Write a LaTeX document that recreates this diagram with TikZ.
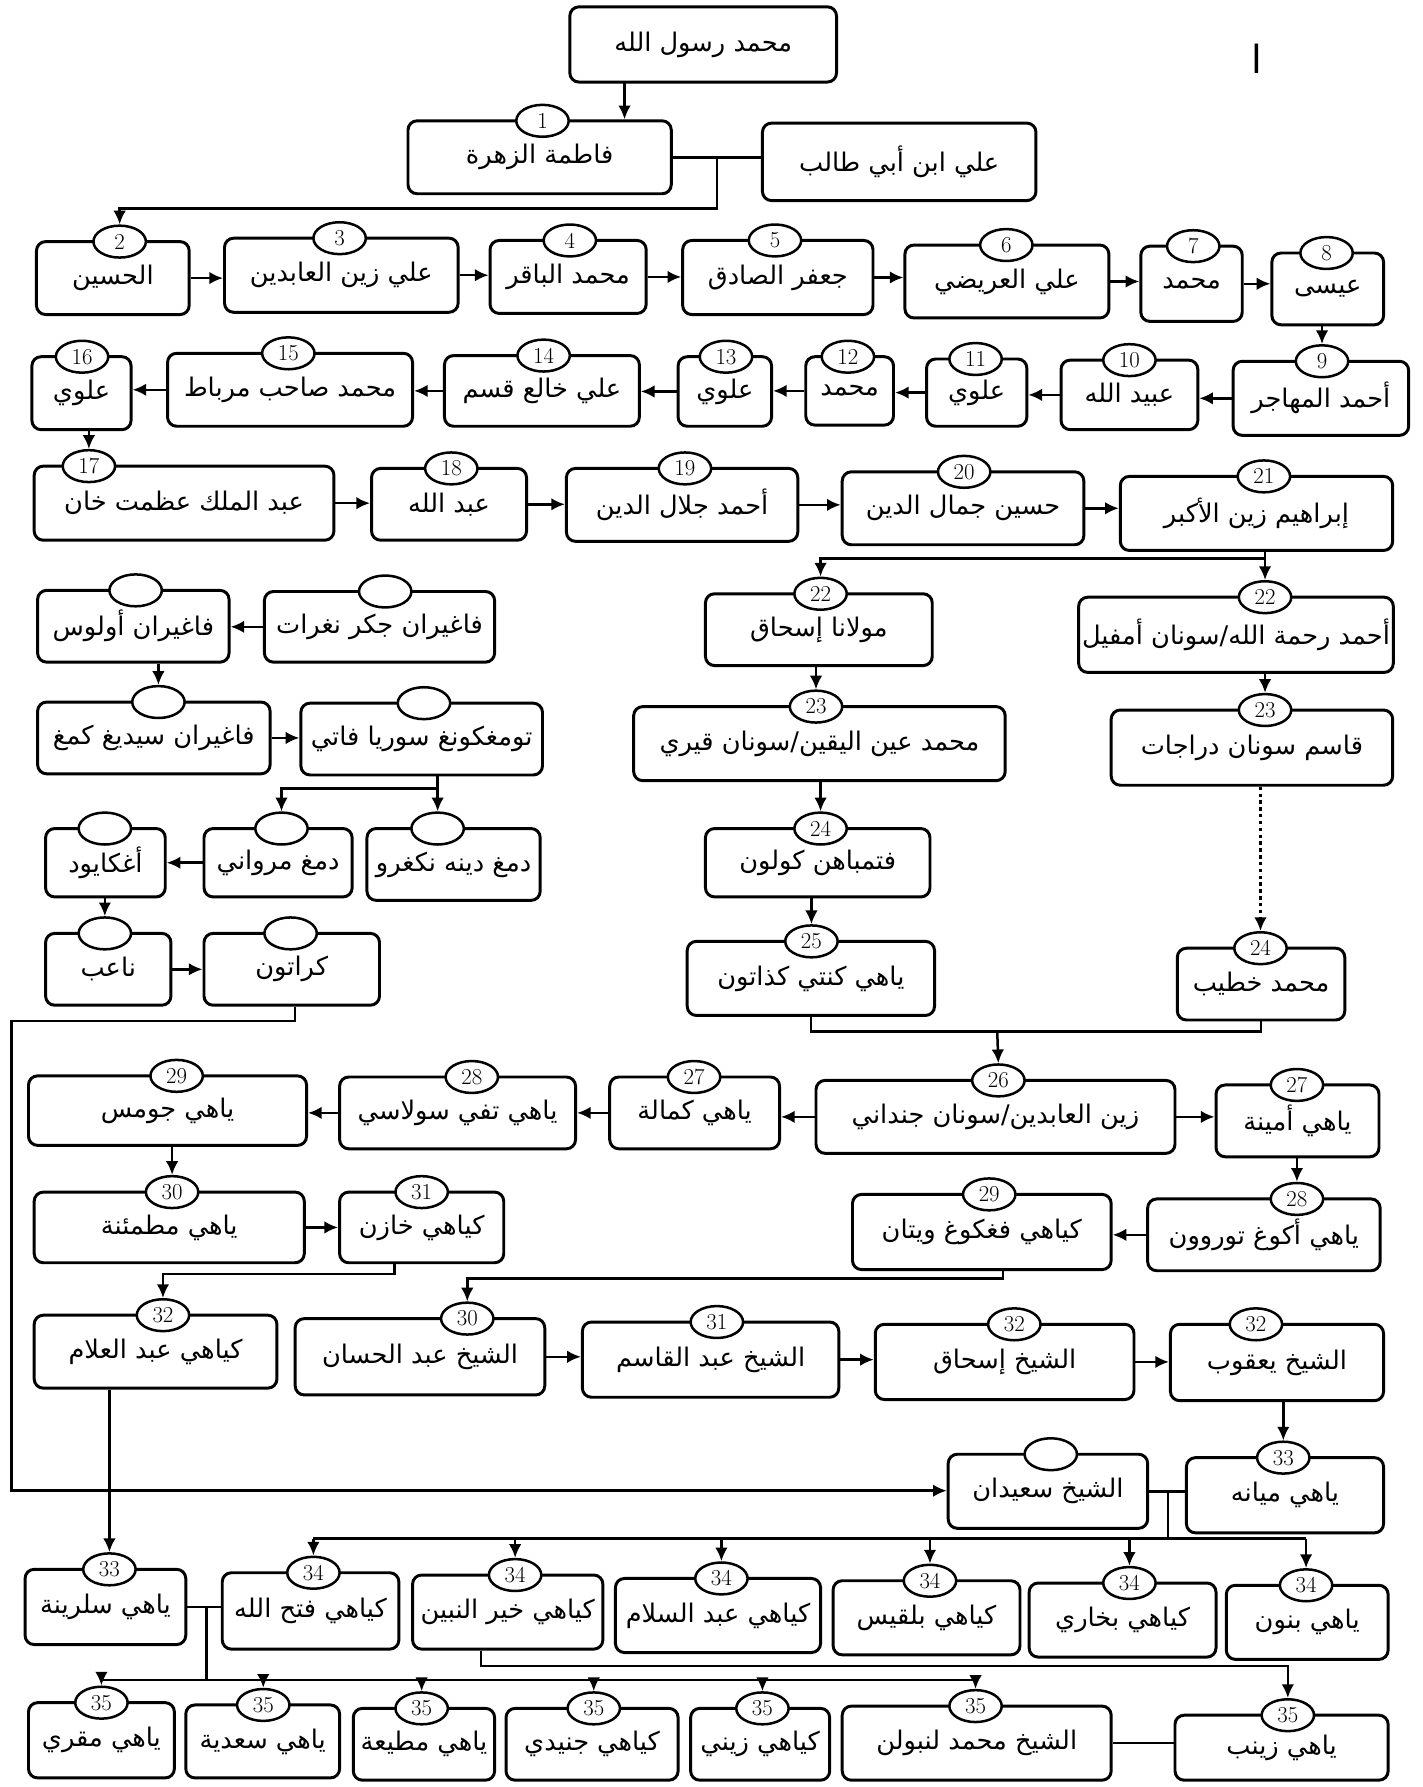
\documentclass[tikz,border=0pt]{standalone}
\usepackage{fontspec}
\newfontfamily\arabicfont[Script=Arabic]{DejaVu Sans}
\TeXXeTstate=1
\usetikzlibrary{arrows.meta,shapes.geometric}
\begin{document}
\begin{tikzpicture}[x=1pt,y=-1pt,
  box/.style={draw,line width=2.6pt,rounded corners=8pt,fill=white,inner sep=3pt,font=\arabicfont\fontsize{22.5}{27}\selectfont},
  num/.style={draw,ellipse,line width=2.2pt,fill=white,minimum width=46pt,minimum height=28pt,inner sep=0pt,font=\fontsize{20}{20}\selectfont},
  link/.style={line width=2.2pt},
  arr/.style={line width=2.2pt,-{Latex[length=12pt,width=11pt]}}]
\useasboundingbox (0,0) rectangle (1248,1568);
\node[box,minimum width=234pt,minimum height=66pt] (top) at (617,39) {\beginR محمد رسول الله\endR};
\node[box,minimum width=240pt,minimum height=68pt] (ali) at (789,142) {\beginR علي ابن أبي طالب\endR};
\node[font=\arabicfont\fontsize{34}{34}\selectfont] (pg) at (1103,52) {ا};
\foreach \nm/\xa/\ya/\xb/\yb/\cx/\no/\tx in {
  fat/358/106/589/170/476/1/فاطمة الزهرة,
  b2/32/212/166/276/105/2/الحسين,
  b3/197/209/402/274/298/3/علي زين العابدين,
  b4/430/211/567/275/500/4/محمد الباقر,
  b5/599/211/766/276/680/5/جعفر الصادق,
  b6/794/215/973/279/883/6/علي العريضي,
  b7/1001/216/1090/282/1047/7/محمد,
  b8/1116/222/1214/285/1164/8/عيسى,
  b9/1082/317/1236/382/1160/9/أحمد المهاجر,
  b10/931/316/1051/377/991/10/عبيد الله,
  b11/813/315/901/374/856/11/علوي,
  b12/707/313/784/373/744/12/محمد,
  b13/595/313/677/374/637/13/علوي,
  b14/390/312/561/374/477/14/علي خالع قسم,
  b15/147/310/362/374/253/15/محمد صاحب مرباط,
  b16/28/313/115/377/72/16/علوي,
  b17/30/409/293/474/78/17/عبد الملك عظمت خان,
  b18/326/411/462/474/396/18/عبد الله,
  b19/497/411/700/475/601/19/أحمد جلال الدين,
  b20/739/414/951/478/846/20/حسين جمال الدين,
  b21/983/418/1222/483/1109/21/إبراهيم زين الأكبر,
  fa/33/518/201/581/119//فاغيران أولوس,
  fj/232/519/434/581/338//فاغيران جكر نغرات,
  b22a/619/521/818/584/720/22/مولانا إسحاق,
  b22b/947/524/1222/590/1110/22/{أحمد رحمة الله/سونان أمفيل},
  fs/33/616/237/679/139//فاغيران سيديغ كمغ,
  ts/264/617/476/680/372//تومغكونغ سوريا فاتي,
  b23a/556/620/882/685/716/23/{محمد عين اليقين/سونان قيري},
  b23b/975/623/1222/689/1110/23/قاسم سونان دراجات,
  ag/40/727/145/787/92//أغكايود,
  dm/179/727/309/787/247//دمغ مرواني,
  dd/322/727/474/790/384//دمغ دينه نكغرو,
  b24a/619/727/816/787/720/24/فتمباهن كولون,
  na/40/819/150/882/92//ناعب,
  kr/179/819/333/882/255//كراتون,
  b25/603/826/820/891/712/25/ياهي كنتي كذاتون,
  b24b/1033/832/1180/895/1106/24/محمد خطيب,
  b29a/25/944/269/1005/155/29/ياهي جومس,
  b28a/298/945/505/1008/414/28/ياهي تفي سولاسي,
  b27a/535/945/684/1008/609/27/ياهي كمالة,
  b26/716/948/1031/1012/876/26/{زين العابدين/سونان جنداني},
  b27b/1067/952/1210/1015/1138/27/ياهي أمينة,
  b30a/30/1046/267/1108/151/30/ياهي مطمئنة,
  b31a/298/1046/442/1108/370/31/كياهي خازن,
  b29b/748/1048/975/1114/868/29/كياهي فغكوغ ويتان,
  b28b/1007/1052/1211/1115/1138/28/ياهي أكوغ توروون,
  b32a/30/1154/243/1218/143/32/كياهي عبد العلام,
  b30b/259/1157/478/1224/410/30/الشيخ عبد الحسان,
  b31b/511/1160/736/1226/629/31/الشيخ عبد القاسم,
  b32b/768/1162/995/1228/890/32/الشيخ إسحاق,
  b32c/1027/1162/1214/1229/1102/32/الشيخ يعقوب,
  sa/832/1276/1007/1341/922//الشيخ سعيدان,
  b33a/1041/1279/1214/1345/1126/33/ياهي ميانه,
  b33b/22/1377/163/1443/96/33/ياهي سلرينة,
  c1/195/1380/350/1447/275/34/كياهي فتح الله,
  c2/362/1382/529/1447/452/34/كياهي خير النبين,
  c3/540/1385/720/1450/633/34/كياهي عبد السلام,
  c4/731/1387/895/1452/816/34/كياهي بلقيس,
  c5/903/1389/1067/1454/991/34/كياهي بخاري,
  c6/1076/1391/1218/1456/1146/34/ياهي بنون,
  d1/25/1494/153/1560/89/35/ياهي مقري,
  d2/163/1496/298/1560/231/35/ياهي سعدية,
  d3/310/1499/434/1562/370/35/ياهي مطيعة,
  d4/444/1499/595/1562/521/35/كياهي جنيدي,
  d5/606/1499/728/1562/669/35/كياهي زيني,
  d6/739/1497/975/1562/856/35/الشيخ محمد لنبولن,
  d7/1031/1505/1218/1562/1130/35/ياهي زينب}
{
\node[box,minimum width={(\xb-\xa)*1pt},minimum height={(\yb-\ya)*1pt}] (\nm) at ({(\xa+\xb)/2},{(\ya+\yb)/2}) {\beginR\tx\endR};
\node[num] (n\nm) at (\cx,\ya) {\no};
}
\coordinate (ta) at (548,72);
\coordinate (j1) at (629,183);
\coordinate (j2) at (1110,490);
\coordinate (j3) at (384,692);
\coordinate (k1) at (259,896);
\coordinate (k2) at (10,1308);
\coordinate (j5) at (875,905);
\coordinate (j6) at (346,1118);
\coordinate (j7) at (880,1122);
\coordinate (j8) at (1025,1350);
\coordinate (j9) at (181,1474);
\coordinate (j10) at (422,1462);
\draw[arr] (ta) -- (ta |- fat.north);
\draw[link] (fat.east) -- (fat.east -| ali.west);
\draw[arr] (fat.east -| j1) -- (j1) -| (nb2.north);
\foreach \a/\b in {b2/b3,b3/b4,b4/b5,b5/b6,b6/b7,b7/b8,b17/b18,b18/b19,b19/b20,b20/b21,fs/ts,na/kr,b30a/b31a,b30b/b31b,b31b/b32b,b32b/b32c,b26/b27b}
  \draw[arr] (\a.east) -- (\a.east -| \b.west);
\foreach \a/\b in {b9/b10,b10/b11,b11/b12,b12/b13,b13/b14,b14/b15,b15/b16,fj/fa,dm/ag,b26/b27a,b27a/b28a,b28a/b29a,b28b/b29b}
  \draw[arr] (\a.west) -- (\a.west -| \b.east);
\foreach \a/\b in {b8/b9,b16/b17,fa/fs,ag/na,b22a/b23a,b23a/b24a,b24a/b25,b22b/b23b,b29a/b30a,b27b/b28b,b32c/b33a,b32a/b33b}
  \draw[arr] (\a.south -| n\b) -- (n\b.north);
\draw[arr,dashed] (b23b.south -| nb24b) -- (nb24b.north);
\draw[link] (b21.south -| j2) -- (j2);
\draw[arr] (j2) -| (nb22a.north);
\draw[arr] (j2) -- (nb22b.north);
\draw[link] (ts.south -| j3) -- (j3);
\draw[arr] (j3) -| (ndm.north);
\draw[arr] (j3) -- (ndd.north);
\draw[arr] (kr.south -| k1) -- (k1) -| (k2) -- (k2 -| sa.west);
\draw[link] (b25.south) -- (b25.south |- j5) -- (b24b.south |- j5) -- (b24b.south);
\draw[arr] (j5) -- (nb26.north);
\draw[arr] (b31a.south -| j6) -- (j6) -| (nb32a.north);
\draw[arr] (b29b.south -| j7) -- (j7) -| (nb30b.north);
\draw[link] (sa.east) -- (sa.east -| b33a.west);
\draw[link] (j8 |- sa.east) -- (j8);
\draw[link] (nc1 |- j8) -- (nc6 |- j8);
\foreach \c in {nc1,nc2,nc3,nc4,nc5,nc6}
  \draw[arr] (\c |- j8) -- (\c.north);
\draw[link] (b33b.east) -- (b33b.east -| c1.west);
\draw[link] (j9 |- b33b.east) -- (j9);
\draw[link] (nd1 |- j9) -- (nd6 |- j9);
\foreach \c in {nd1,nd2,nd3,nd4,nd5,nd6}
  \draw[arr] (\c |- j9) -- (\c.north);
\draw[arr] (c2.south -| j10) -- (j10) -| (nd7.north);
\draw[link] (d6.east) -- (d6.east -| d7.west);
\end{tikzpicture}
\end{document}
